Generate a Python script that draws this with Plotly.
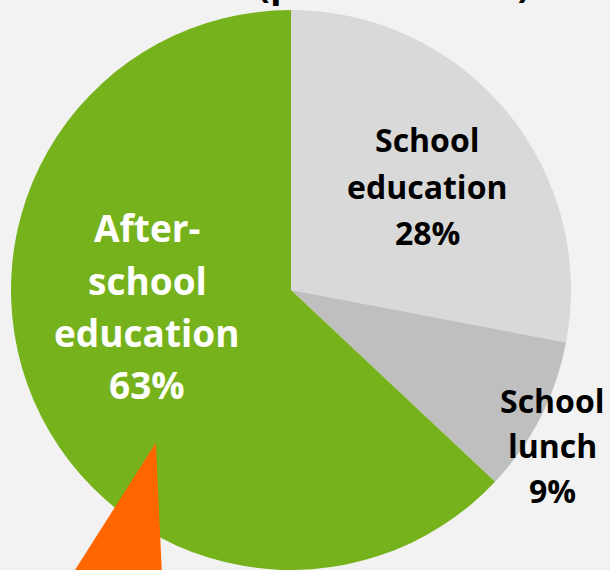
import plotly.graph_objects as go

# ---- data ----
categories = ["School education", "School lunch", "After-school education"]
label_lines = [["School", "education"], ["School", "lunch"], ["After-", "school", "education"]]
shares = [28, 9, 63]
colors = ["#d9d9d9", "#bfbfbf", "#76b21b"]
title_text = "(public school)"

W, H = 610, 570
TOP = 10

fig = go.Figure()
fig.add_trace(go.Pie(
    labels=categories,
    values=shares,
    sort=False,
    direction="clockwise",
    rotation=0,
    marker=dict(colors=colors, line=dict(width=0)),
    textinfo="none",
    hoverinfo="label+percent",
    domain=dict(x=[11 / W, 571 / W], y=[0, 1]),
    showlegend=False,
))

def px2paper(px, py):
    return px / W, (H - py) / (H - TOP)

# label layout (pixel centres of first line, line pitch, font size, colour)
label_style = [
    dict(cx=427, y0=140, pitch=46, size=32, color="#000000"),
    dict(cx=552, y0=400, pitch=45, size=32, color="#000000"),
    dict(cx=147, y0=228, pitch=52, size=37, color="#ffffff"),
]

for lines, val, st in zip(label_lines, shares, label_style):
    all_lines = lines + [f"{val}%"]
    for i, txt in enumerate(all_lines):
        x, y = px2paper(st["cx"], st["y0"] + i * st["pitch"])
        fig.add_annotation(
            x=x, y=y, xref="paper", yref="paper",
            text=txt, showarrow=False,
            xanchor="center", yanchor="middle",
            font=dict(family="Open Sans", size=st["size"], color=st["color"], weight="bold"),
        )

# partially visible title at the very top
tx, ty = px2paper(393, 10)
fig.add_annotation(
    x=tx, y=ty, xref="paper", yref="paper", text=title_text, showarrow=False,
    xanchor="center", yanchor="bottom",
    font=dict(family="Open Sans", size=38, color="#000000", weight="bold"),
)

# orange callout pointer
p1 = px2paper(155, 446)
p2 = px2paper(161, 575)
p3 = px2paper(73, 575)
fig.add_shape(
    type="path", xref="paper", yref="paper",
    path=f"M {p1[0]},{p1[1]} L {p2[0]},{p2[1]} L {p3[0]},{p3[1]} Z",
    fillcolor="#ff6600", line=dict(color="#ff6600", width=2), layer="above",
)

fig.update_layout(
    width=W, height=H,
    margin=dict(l=0, r=0, t=TOP, b=0),
    paper_bgcolor="#f2f2f2",
    plot_bgcolor="#f2f2f2",
)

fig.write_html(
    "out.html",
    config={"displayModeBar": False},
    post_script="document.body.style.margin='0';document.body.style.background='#f2f2f2';"
                "document.body.style.overflow='hidden';",
)
